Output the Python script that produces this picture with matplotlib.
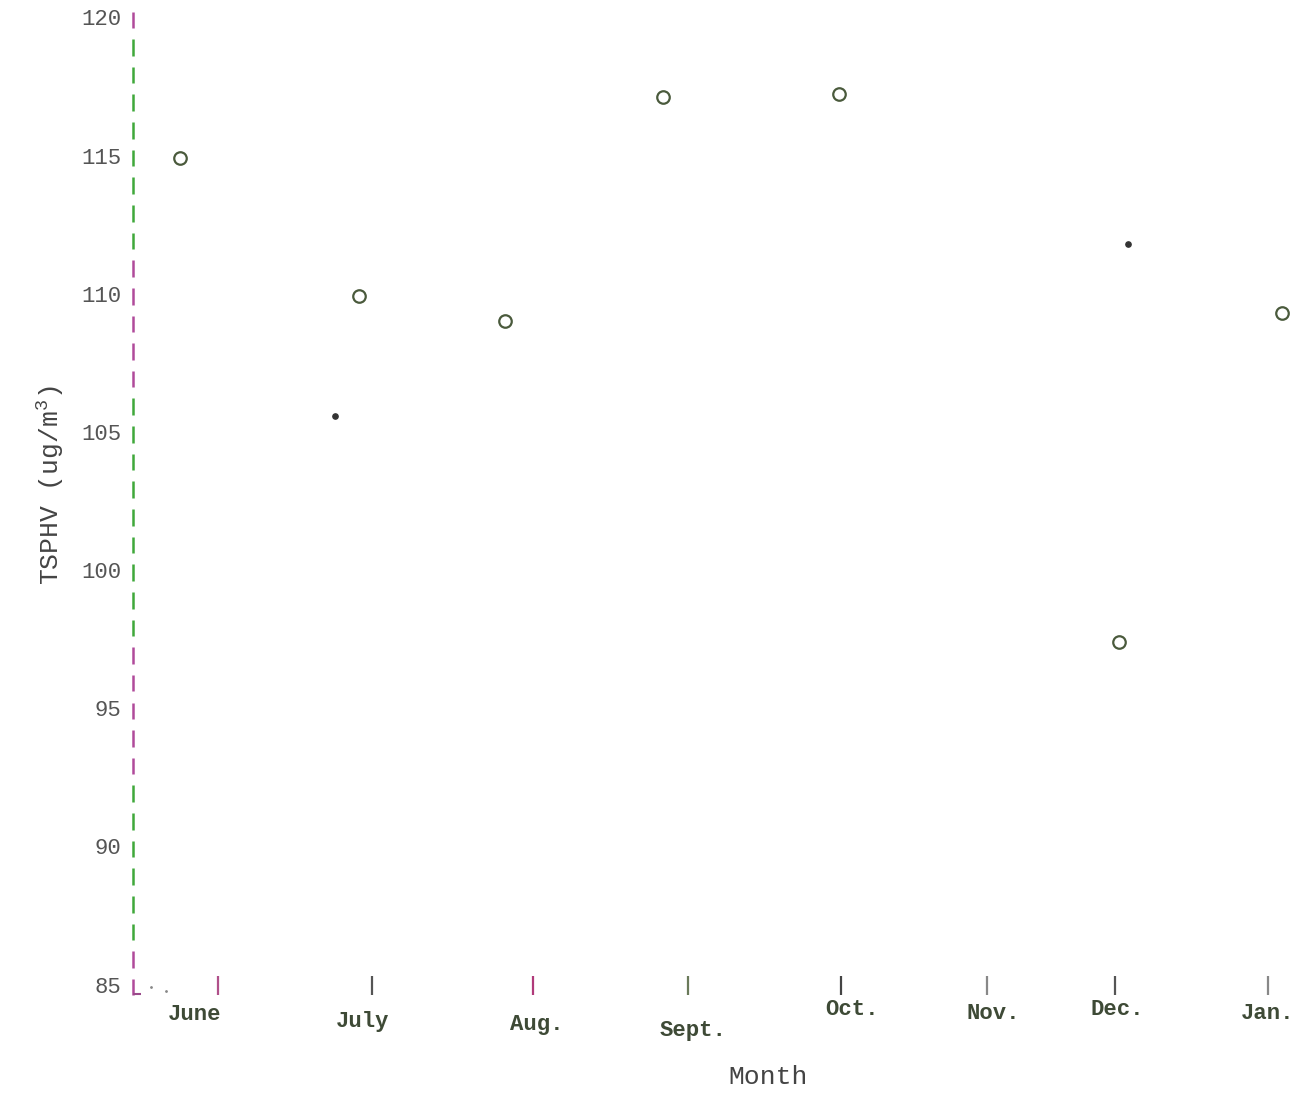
import numpy as np
import matplotlib.pyplot as plt

# days counted from the start of the record (left axis = day 0)
month_names = ["June", "July", "Aug.", "Sept.", "Oct.", "Nov.", "Dec.", "Jan."]
month_ticks = [16.7, 46.9, 78.4, 108.8, 138.8, 167.5, 192.5, 222.5]
label_x = [12.0, 45.0, 79.2, 109.8, 141.0, 168.6, 192.9, 222.5]
label_drop = [0.0, 0.25, 0.35, 0.55, -0.2, -0.05, -0.2, -0.05]
tick_colors = ["#b0508a", "#555555", "#b03a7a", "#6a7a5a", "#444444",
               "#888888", "#555555", "#888888"]

# monthly TSPHV
tsp_day = [9.2, 44.3, 72.9, 103.9, 138.4, 193.3, 225.3]
tsp_val = [115.0, 110.0, 109.1, 117.2, 117.3, 97.5, 109.4]

# the two filled points
dot_day = [39.6, 195.1]
dot_val = [105.65, 111.9]

yticks = [85, 90, 95, 100, 105, 110, 115, 120]

plt.rcParams['mathtext.fontset'] = 'custom'
plt.rcParams['mathtext.rm'] = 'Liberation Mono'

fig = plt.figure(figsize=(12.96, 11.03), dpi=100)
ax = fig.add_axes([0.1026, 0.105, 0.8974, 0.877])
ax.set_xlim(0, 228)
ax.set_ylim(85, 120)
for s in ax.spines.values():
    s.set_visible(False)
ax.set_xticks([])
ax.set_yticks([])

# y axis drawn as a column of short dashes, one per unit
axis_cols = {}
for v in range(85, 121):
    if v >= 120 or 107 <= v <= 111 or 93 <= v <= 97 or v <= 86:
        axis_cols[v] = "#b04a9a"
    else:
        axis_cols[v] = "#3fa83a"
for v in range(85, 121):
    ax.vlines(0, v - 0.3, v + 0.3, color=axis_cols[v], lw=1.8, clip_on=False)
ax.hlines(85 - 0.25, 0, 1.6, color="#9a4a8a", lw=1.5, clip_on=False)
ax.plot([3.5, 6.5], [85.0, 84.85], ls='none', marker='.', ms=2, color="#888888", clip_on=False)

for v in yticks:
    ax.text(-2.3, v, str(v), ha='right', va='center', fontsize=16,
            family='Liberation Mono', color="#555555")

# month ticks and labels
for x, c in zip(month_ticks, tick_colors):
    ax.vlines(x, 84.7, 85.4, color=c, lw=1.6, clip_on=False)
for x, d, name in zip(label_x, label_drop, month_names):
    ax.text(x, 84.0 - d, name, ha='center', va='center', fontsize=16,
            family='Liberation Mono', weight='bold', color="#3e4a36")

ax.plot(tsp_day, tsp_val, ls='none', marker='o', ms=9, mfc='none',
        mec="#4a5a3c", mew=1.6, clip_on=False)
ax.plot(dot_day, dot_val, ls='none', marker='o', ms=3.8, color="#333333",
        clip_on=False)

fig.text(0.593, 0.013, "Month", ha='center', va='bottom', fontsize=19,
         family='Liberation Mono', color="#444444")
fig.text(0.039, 0.56, "TSPHV (ug/m$^{3}$)", ha='center', va='center', rotation=90,
         fontsize=19, family='Liberation Mono', color="#444444")

fig.savefig("out.png", dpi=100, facecolor='white')
